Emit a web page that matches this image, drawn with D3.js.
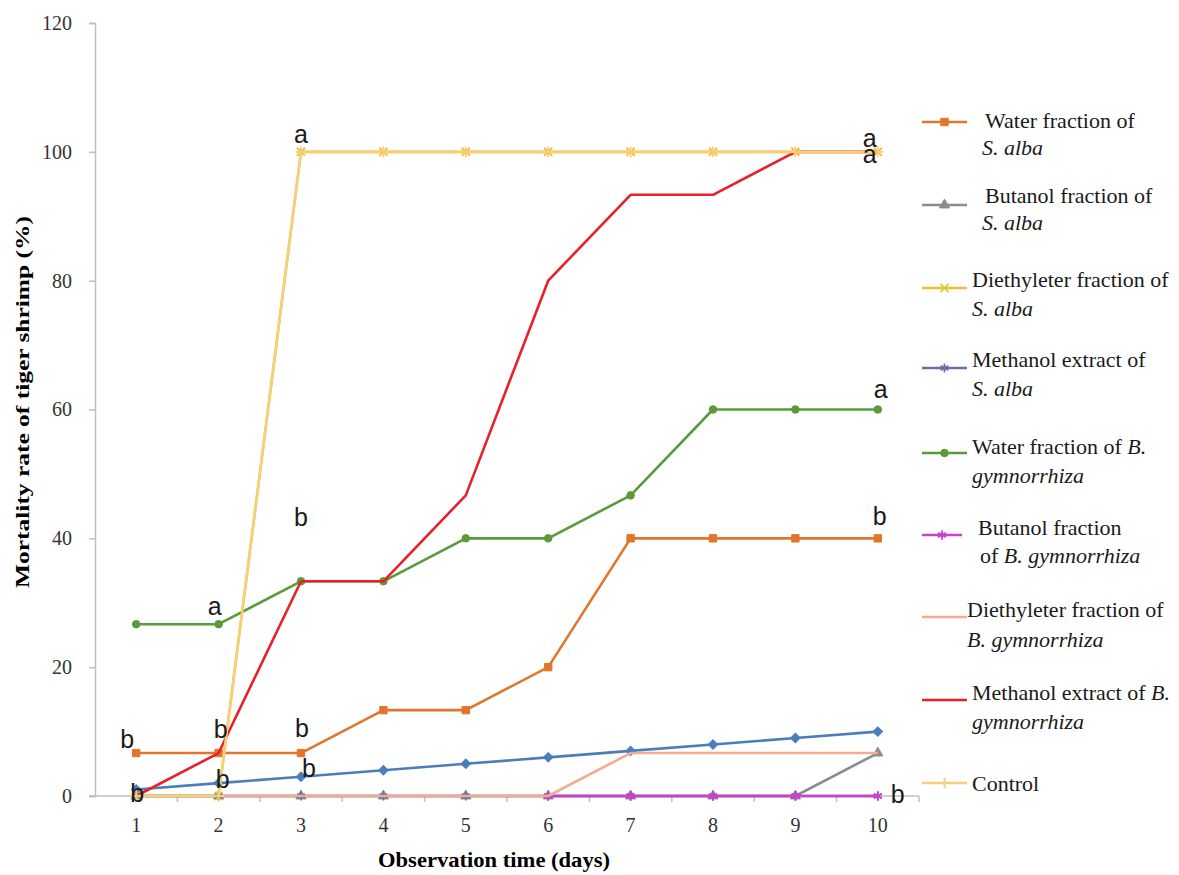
<!DOCTYPE html>
<html>
<head>
<meta charset="utf-8">
<script src="https://cdn.jsdelivr.net/npm/d3@7"></script>
<style>
  body { margin: 0; background: #fff; }
</style>
</head>
<body>
<div id="chart"></div>
<script>
// categories and values
const days = [1, 2, 3, 4, 5, 6, 7, 8, 9, 10];
const yTicks = [0, 20, 40, 60, 80, 100, 120];

const waterSAlba      = [6.67, 6.67, 6.67, 13.33, 13.33, 20, 40, 40, 40, 40];
const butanolSAlba    = [0, 0, 0, 0, 0, 0, 0, 0, 0, 6.67];
const diethylSAlba    = [0, 0, 100, 100, 100, 100, 100, 100, 100, 100];
const methanolSAlba   = [0, 0, 0, 0, 0, 0, 0, 0, 0, 0];
const waterBGym       = [26.67, 26.67, 33.33, 33.33, 40, 40, 46.67, 60, 60, 60];
const butanolBGym     = [null, null, null, null, null, 0, 0, 0, 0, 0];
const diethylBGym     = [0, 0, 0, 0, 0, 0, 6.67, 6.67, 6.67, 6.67];
const methanolBGym    = [0, 6.67, 33.33, 33.33, 46.67, 80, 93.33, 93.33, 100, 100];
const control         = [0, 0, 100, 100, 100, 100, 100, 100, 100, 100];
// extra blue diamond line with no legend entry
const unlabeledBlue   = [1, 2, 3, 4, 5, 6, 7, 8, 9, 10];

// significance letters
const letters = [
  {day: 3, value: 100, text: "a", dx: 0, dy: -9},
  {day: 10, value: 100, text: "a", dx: -8, dy: -5},
  {day: 10, value: 100, text: "a", dx: -8, dy: 11},
  {day: 10, value: 60, text: "a", dx: 3, dy: -12},
  {day: 10, value: 40, text: "b", dx: 2, dy: -13},
  {day: 2, value: 26.67, text: "a", dx: -4, dy: -9},
  {day: 3, value: 33.33, text: "b", dx: 0, dy: -55},
  {day: 1, value: 6.67, text: "b", dx: -9, dy: -5},
  {day: 2, value: 6.67, text: "b", dx: 2, dy: -15},
  {day: 3, value: 6.67, text: "b", dx: 1, dy: -16},
  {day: 1, value: 0, text: "b", dx: 1, dy: 6},
  {day: 2, value: 1.9, text: "b", dx: 4, dy: 4},
  {day: 3, value: 3, text: "b", dx: 8, dy: 0},
  {day: 10, value: 0, text: "b", dx: 20, dy: 7}
];

const symX = d3.symbolTimes || d3.symbolX || d3.symbolCross;
const symAst = d3.symbolAsterisk || d3.symbolCross;
const symPlus = d3.symbolPlus || d3.symbolCross;

const series = [
  {name: null, values: unlabeledBlue, color: "#4a7ebb", marker: d3.symbolSquare, rot: 45, msize: 45, fill: true},
  {name: ["Water fraction of", "<i>S. alba</i>"], values: waterSAlba, color: "#e0762c", marker: d3.symbolSquare, msize: 55, fill: true},
  {name: ["Butanol fraction of", "<i>S. alba</i>"], values: butanolSAlba, color: "#8c8c8c", marker: d3.symbolTriangle, msize: 45, fill: true},
  {name: ["Diethyleter fraction of", "<i>S. alba</i>"], values: diethylSAlba, color: "#f0c030", marker: symX, msize: 45, fill: false},
  {name: ["Methanol extract of", "<i>S. alba</i>"], values: methanolSAlba, color: "#6b6fae", marker: symAst, msize: 55, fill: false},
  {name: ["Water fraction of <i>B.</i>", "<i>gymnorrhiza</i>"], values: waterBGym, color: "#5a9a3a", marker: d3.symbolCircle, msize: 45, fill: true},
  {name: ["Butanol fraction", "of <i>B. gymnorrhiza</i>"], values: butanolBGym, color: "#cc3fcc", marker: symAst, msize: 60, fill: false},
  {name: ["Diethyleter fraction of", "<i>B. gymnorrhiza</i>"], values: diethylBGym, color: "#f5ab90", marker: null},
  {name: ["Methanol extract of <i>B.</i>", "<i>gymnorrhiza</i>"], values: methanolBGym, color: "#e8202a", marker: null},
  {name: ["Control"], values: control, color: "#f7cf7a", marker: symPlus, msize: 40, fill: false}
];

const width = 1179, height = 875;
const plot = {left: 95, right: 919, top: 23, bottom: 796};

const svg = d3.select("#chart").append("svg")
  .attr("width", width)
  .attr("height", height)
  .style("font-family", "'Liberation Serif', 'Times New Roman', serif");

const x = d3.scaleBand()
  .domain(days)
  .range([plot.left, plot.right])
  .padding(0);
const xc = d => x(d) + x.bandwidth() / 2;

const y = d3.scaleLinear()
  .domain([0, 120])
  .range([plot.bottom, plot.top]);

// Y axis
const yAxis = svg.append("g")
  .attr("transform", `translate(${plot.left},0)`)
  .call(d3.axisLeft(y).tickValues(yTicks).tickSize(6).tickPadding(17));
yAxis.select(".domain").attr("stroke", "#bfbfbf").attr("stroke-width", 1.5);
yAxis.selectAll(".tick line").attr("stroke", "#bfbfbf").attr("stroke-width", 1.5);
yAxis.selectAll(".tick text")
  .style("font-family", "'Liberation Serif', serif")
  .style("font-size", "20px")
  .attr("fill", "#333");

// X axis: labels centred in bands, ticks at band edges
const xAxis = svg.append("g")
  .attr("transform", `translate(0,${plot.bottom})`)
  .call(d3.axisBottom(x).tickSize(0).tickPadding(22));
xAxis.select(".domain").remove();
xAxis.selectAll(".tick text")
  .style("font-family", "'Liberation Serif', serif")
  .style("font-size", "20px")
  .attr("fill", "#333");

svg.append("line")
  .attr("x1", plot.left - 6).attr("x2", plot.right)
  .attr("y1", y(0)).attr("y2", y(0))
  .attr("stroke", "#bfbfbf").attr("stroke-width", 1.5);

const edges = days.slice(1).map(d => x(d)).concat([x(days[days.length - 1]) + x.bandwidth()]);
svg.append("g").selectAll("line")
  .data(edges)
  .join("line")
    .attr("x1", d => d).attr("x2", d => d)
    .attr("y1", y(0)).attr("y2", y(0) + 6)
    .attr("stroke", "#bfbfbf").attr("stroke-width", 1.5);

// axis titles
svg.append("text")
  .attr("transform", `translate(29,402) rotate(-90)`)
  .attr("text-anchor", "middle")
  .attr("textLength", 372)
  .attr("lengthAdjust", "spacingAndGlyphs")
  .style("font-size", "19px")
  .style("font-weight", "bold")
  .text("Mortality rate of tiger shrimp (%)");

svg.append("text")
  .attr("x", 494)
  .attr("y", 867)
  .attr("text-anchor", "middle")
  .attr("textLength", 232)
  .attr("lengthAdjust", "spacingAndGlyphs")
  .style("font-size", "21px")
  .style("font-weight", "bold")
  .text("Observation time (days)");

// lines
const line = d3.line()
  .defined(d => d.v !== null)
  .x(d => xc(d.day))
  .y(d => y(d.v));

const markerPath = s => d3.symbol().type(s.marker).size(s.msize)();

series.forEach(s => {
  const pts = days.map((day, i) => ({day: day, v: s.values[i]}));
  svg.append("path")
    .datum(pts)
    .attr("fill", "none")
    .attr("stroke", s.color)
    .attr("stroke-width", 2.6)
    .attr("stroke-linejoin", "round")
    .attr("d", line);
  if (s.marker) {
    svg.append("g").selectAll("path")
      .data(pts.filter(p => p.v !== null))
      .join("path")
        .attr("transform", p => `translate(${xc(p.day)},${y(p.v)}) rotate(${s.rot || 0})`)
        .attr("d", markerPath(s))
        .attr("fill", s.fill ? s.color : "none")
        .attr("stroke", s.color)
        .attr("stroke-width", s.fill ? 1 : 1.8);
  }
});

// significance letters
svg.append("g").selectAll("text")
  .data(letters)
  .join("text")
    .attr("x", d => xc(d.day) + d.dx)
    .attr("y", d => y(d.value) + d.dy)
    .attr("text-anchor", "middle")
    .style("font-family", "'Liberation Sans', Arial, sans-serif")
    .style("font-size", "25px")
    .attr("fill", "#1a1a1a")
    .text(d => d.text);

// legend
const legendRows = [
  {line: 122, t1: 121, t2: 148, tx: 985, tx2: 982},
  {line: 205, t1: 196, t2: 223, tx: 985, tx2: 982},
  {line: 288, t1: 280, t2: 309, tx: 972, tx2: 972},
  {line: 368, t1: 360, t2: 389, tx: 972, tx2: 972},
  {line: 453, t1: 447, t2: 476, tx: 972, tx2: 972},
  {line: 535, t1: 528, t2: 556, tx: 978, tx2: 980},
  {line: 617, t1: 610, t2: 640, tx: 967, tx2: 967},
  {line: 700, t1: 693, t2: 722, tx: 972, tx2: 972},
  {line: 783, t1: 784, t2: null, tx: 972, tx2: 972}
];
const legendSeries = series.filter(s => s.name);
const lg = svg.append("g");
legendSeries.forEach((s, i) => {
  const r = legendRows[i];
  const x1 = 922, x2 = (i === 5 ? 962 : 967);
  lg.append("line")
    .attr("x1", x1).attr("x2", x2)
    .attr("y1", r.line).attr("y2", r.line)
    .attr("stroke", s.color).attr("stroke-width", 2.6);
  if (s.marker) {
    lg.append("path")
      .attr("transform", `translate(${(x1 + x2) / 2},${r.line})`)
      .attr("d", markerPath(s))
      .attr("fill", s.fill ? s.color : "none")
      .attr("stroke", s.color)
      .attr("stroke-width", s.fill ? 1 : 1.8);
  }
  s.name.forEach((txt, k) => {
    const t = lg.append("text")
      .attr("x", k === 0 ? r.tx : r.tx2)
      .attr("y", (k === 0 ? r.t1 : r.t2) + 7)
      .style("font-size", "22px")
      .attr("fill", "#1a1a1a");
    txt.split(/(<i>.*?<\/i>)/).filter(p => p.length).forEach(p => {
      const it = p.startsWith("<i>");
      t.append("tspan")
        .style("font-style", it ? "italic" : "normal")
        .text(it ? p.slice(3, -4) : p);
    });
  });
});
</script>
</body>
</html>
